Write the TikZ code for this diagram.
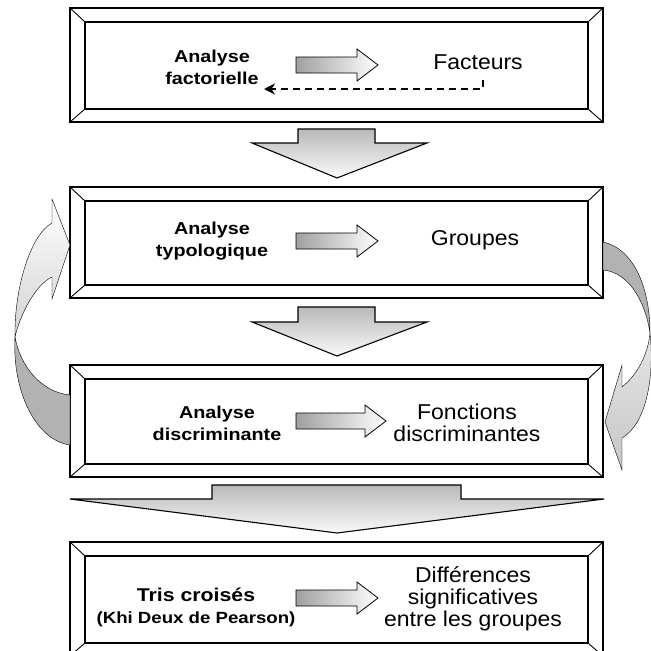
\documentclass[tikz,border=0pt]{standalone}
\usepackage{fontspec}
\setmainfont{Liberation Sans}[FakeStretch=1.15]
\newfontfamily\droit{Liberation Sans}[FakeStretch=1.07]
\usetikzlibrary{arrows.meta}
\tikzset{
  etape/.style={font=\bfseries\fontsize{17.2}{22}\selectfont, align=center, inner sep=0pt},
  resultat/.style={font=\droit\fontsize{21.5}{22}\selectfont, align=center, inner sep=0pt},
  fleche/.style={draw=black, line width=0.8pt, left color=gray!75, right color=white},
  descente/.style={draw=black, line width=1.1pt, top color=gray!55, bottom color=gray!4},
  retour/.style={draw=black, line width=0.4pt},
  pointille/.style={line width=2.4pt, dash pattern=on 7pt off 5pt, -{Stealth[length=11pt,width=11pt]}}
}
\begin{document}
\begin{tikzpicture}[x=1pt,y=-1pt]
\useasboundingbox (0,0) rectangle (651,651);
\clip (0,0) rectangle (651,651);
\foreach \ya/\yb in {8/122,187/298,365/477,542/656}{
  \draw[line width=1.6pt, fill=white] (70,\ya) rectangle (603,\yb);
  \draw[line width=1.5pt] (85,\ya+14) rectangle (588,\yb-13);
  \draw[line width=0.9pt] (70,\ya) -- (85,\ya+14) (603,\ya) -- (588,\ya+14)
    (70,\yb) -- (85,\yb-13) (603,\yb) -- (588,\yb-13);
}
\draw[descente] (298,129) -- (375,129) -- (375,143) -- (427,143) -- (337,178) -- (252,143) -- (298,143) -- cycle;
\draw[descente] (298,307) -- (375,307) -- (375,322) -- (427,322) -- (337,356) -- (252,322) -- (298,322) -- cycle;
\draw[descente] (212,485) -- (461,485) -- (461,499) -- (604,499) -- (337,533) -- (70,499) -- (212,499) -- cycle;
\foreach \yc/\xt in {65/378,241/378,421/386,598/378}{
  \draw[fleche] (296,\yc-8) -- (\xt-21,\yc-8) -- (\xt-21,\yc-16) -- (\xt,\yc)
    -- (\xt-21,\yc+16) -- (\xt-21,\yc+8) -- (296,\yc+8) -- cycle;
}
\node[etape] (fact) at (212,67) {Analyse\\factorielle};
\node[etape] (typo) at (212,241) {Analyse\\typologique};
\node[etape] (disc) at (217,423) {Analyse\\discriminante};
\node[etape] (tris) at (196,607) {{\fontsize{18.5}{22}\selectfont Tris croisés}\\{\fontsize{16.2}{22}\selectfont (Khi Deux de Pearson)}};
\node[resultat] (facteurs) at (478,62) {Facteurs};
\node[resultat] (groupes) at (475,240) {Groupes};
\node[resultat] (fonctions) at (467,423) {Fonctions\\discriminantes};
\node[resultat] (diff) at (473,599) {Différences\\significatives\\entre les groupes};
\coordinate (d0) at (483,80);
\coordinate (d1) at (264,89);
\draw[pointille] (d0) |- (d1);
\draw[retour, fill=gray!60] (70,395) .. controls (40,392) and (20,365) .. (15,337)
  .. controls (12,390) and (35,440) .. (70,445) -- cycle;
\draw[retour, top color=white, bottom color=gray!35] (52,223) -- (52,199) -- (70,245) -- (52,299) -- (52,277)
  .. controls (35,285) and (20,315) .. (15,337) .. controls (14,290) and (30,235) .. (52,223) -- cycle;
\draw[retour, fill=gray!60] (603,242) .. controls (632,248) and (650,285) .. (650,333)
  .. controls (645,300) and (628,272) .. (603,270) -- cycle;
\draw[retour, top color=gray!20, bottom color=gray!45] (650,333) .. controls (655,380) and (645,425) .. (622,438)
  -- (622,470) -- (605,422) -- (622,365) -- (622,387) .. controls (637,375) and (648,355) .. (650,333) -- cycle;
\end{tikzpicture}
\end{document}
